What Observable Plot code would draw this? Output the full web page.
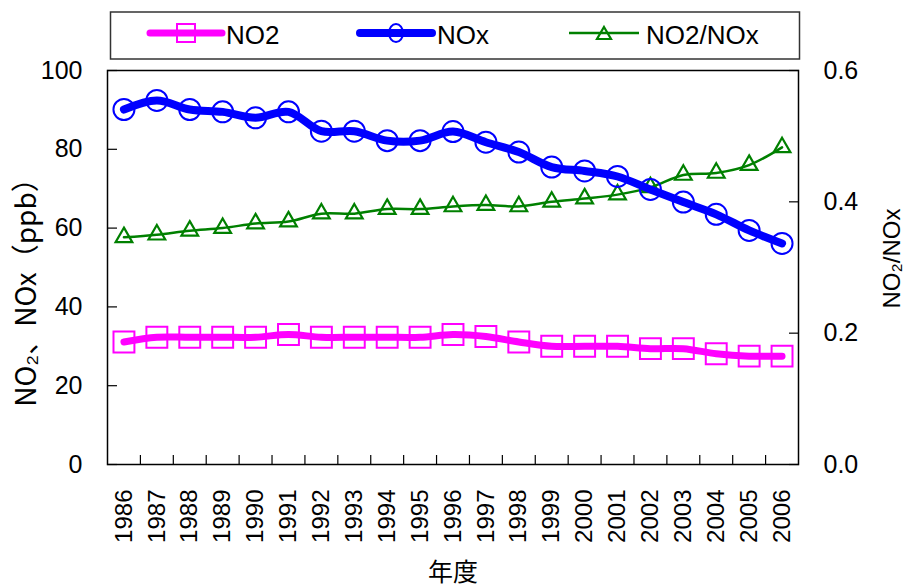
<!DOCTYPE html>
<html><head><meta charset="utf-8">
<script src="https://cdn.jsdelivr.net/npm/d3@7"></script>
<script src="https://cdn.jsdelivr.net/npm/@observablehq/plot@0.6"></script>
<style>
body{margin:0;background:#fff;font-family:"Liberation Sans",Arial,sans-serif;}
#wrap{position:relative;width:904px;height:588px;}
#legend{position:absolute;left:0;top:0;width:904px;height:64px;z-index:2;}
#legend svg{display:block;}
#chart svg{display:block;}
</style></head>
<body>
<div id="wrap">
<div id="chart"></div>
<div id="legend"></div>
</div>
<script>
const years = [1986,1987,1988,1989,1990,1991,1992,1993,1994,1995,1996,1997,1998,1999,2000,2001,2002,2003,2004,2005,2006];
const no2   = [31.1,32.3,32.3,32.3,32.3,33.0,32.3,32.3,32.3,32.3,33.0,32.5,31.1,30.0,30.0,30.0,29.4,29.4,28.1,27.5,27.5];
const nox   = [90.1,92.4,90.1,89.5,88.0,89.5,84.6,84.6,82.2,82.2,84.5,81.8,79.3,75.5,74.5,73.1,69.8,66.6,63.5,59.4,56.1];
const ratio = [0.346,0.350,0.356,0.360,0.367,0.370,0.382,0.382,0.389,0.389,0.393,0.395,0.393,0.400,0.405,0.411,0.422,0.441,0.444,0.456,0.483];
const leftTicks = [0,20,40,60,80,100];
const rightTicks = [0,0.2,0.4,0.6];
const seriesNames = ["NO2","NOx","NO2/NOx"];
const leftTitle = "NO₂、NOx（ppb）";
const rightTitle = "NO₂/NOx";
const xTitle = "年度";

const K = 100/0.6; // right axis -> left axis units
const data = years.map((y,i)=>({year:y, no2:no2[i], nox:nox[i], ratio:ratio[i]*K}));
const bounds = years.slice(0,-1).map(y=>y+0.5);

const MAG="#ff00ff", BLU="#0000ff", GRN="#008000";
const latin = "'Liberation Sans', Arial, sans-serif";
const cjk = "'Noto Sans CJK JP', 'Liberation Sans', sans-serif";
const blank = () => "";

const chart = Plot.plot({
  width:904, height:588,
  marginTop:70, marginBottom:124, marginLeft:107, marginRight:106,
  style:{fontFamily:latin, fontSize:"24px", color:"#000", background:"#fff"},
  x:{domain:[1985.5,2006.5]},
  y:{domain:[0,100]},
  marks:[
    Plot.frame({stroke:"#000", strokeWidth:1.5}),
    Plot.axisX({ticks:bounds, tickSize:-9, tickFormat:blank, label:null, strokeWidth:1.2}),
    Plot.axisX({ticks:years, tickSize:0, tickPadding:25, tickRotate:-90, tickFormat:d=>String(d), label:null, fontSize:24}),
    Plot.axisY({anchor:"left", ticks:leftTicks, tickSize:-10, tickFormat:blank, label:null, strokeWidth:1.2}),
    Plot.axisY({anchor:"left", ticks:leftTicks, tickSize:0, tickPadding:25, label:null, fontSize:25}),
    Plot.axisY({anchor:"right", ticks:rightTicks.map(t=>t*K), tickSize:-10, tickFormat:blank, label:null, strokeWidth:1.2}),
    Plot.axisY({anchor:"right", ticks:rightTicks.map(t=>t*K), tickSize:0, tickPadding:25, tickFormat:d=>(d/K).toFixed(1), label:null, fontSize:25}),
    Plot.line(data,{x:"year", y:"ratio", stroke:GRN, strokeWidth:2.5, curve:"catmull-rom"}),
    Plot.dot(data,{x:"year", y:"ratio", symbol:"triangle", r:6.2, stroke:GRN, strokeWidth:2.2, fill:"none"}),
    Plot.line(data,{x:"year", y:"no2", stroke:MAG, strokeWidth:7, curve:"catmull-rom", strokeLinecap:"round"}),
    Plot.dot(data,{x:"year", y:"no2", symbol:"square", r:11.8, stroke:MAG, strokeWidth:2, fill:"none"}),
    Plot.line(data,{x:"year", y:"nox", stroke:BLU, strokeWidth:8, curve:"catmull-rom", strokeLinecap:"round"}),
    Plot.dot(data,{x:"year", y:"nox", symbol:"circle", r:10.5, stroke:BLU, strokeWidth:2, fill:"none"}),
    Plot.text([leftTitle],{frameAnchor:"left", textAnchor:"middle", lineAnchor:"middle", dx:-80, dy:18, rotate:-90, fontSize:28, fontFamily:cjk}),
    Plot.text([rightTitle],{frameAnchor:"right", textAnchor:"middle", lineAnchor:"middle", dx:94, dy:-9, rotate:-90, fontSize:24, fontFamily:latin}),
    Plot.text([xTitle],{frameAnchor:"bottom", lineAnchor:"middle", dy:108, fontSize:25, fontFamily:cjk})
  ]
});
document.getElementById("chart").appendChild(chart);

// Legend
const lg = d3.select("#legend").append("svg").attr("width",904).attr("height",64);
lg.append("rect").attr("x",110.5).attr("y",12).attr("width",689).attr("height",47)
  .attr("fill","#fff").attr("stroke","#333").attr("stroke-width",1.5);
const items = [
  {name:seriesNames[0], color:MAG, x0:150, x1:222, w:7, sym:"square", tx:226},
  {name:seriesNames[1], color:BLU, x0:360, x1:432, w:8, sym:"circle", tx:437},
  {name:seriesNames[2], color:GRN, x0:569, x1:639, w:2.5, sym:"triangle", tx:646}
];
const cy = 33;
items.forEach(it=>{
  lg.append("line").attr("x1",it.x0).attr("x2",it.x1).attr("y1",cy).attr("y2",cy)
    .attr("stroke",it.color).attr("stroke-width",it.w).attr("stroke-linecap",it.w>4?"round":"butt");
  const mx=(it.x0+it.x1)/2;
  if(it.sym==="square") lg.append("rect").attr("x",mx-9).attr("y",cy-9).attr("width",18).attr("height",18).attr("fill","none").attr("stroke",it.color).attr("stroke-width",2);
  if(it.sym==="circle") lg.append("ellipse").attr("cx",mx).attr("cy",cy).attr("rx",7).attr("ry",9).attr("fill","none").attr("stroke",it.color).attr("stroke-width",2);
  if(it.sym==="triangle") lg.append("path").attr("d",`M${mx},${cy-6}L${mx+7},${cy+6}L${mx-7},${cy+6}Z`).attr("fill","none").attr("stroke",it.color).attr("stroke-width",2.2);
  lg.append("text").attr("x",it.tx).attr("y",cy+11).attr("font-size",26).attr("font-family",latin).attr("fill","#000").text(it.name);
});
</script>
</body></html>
